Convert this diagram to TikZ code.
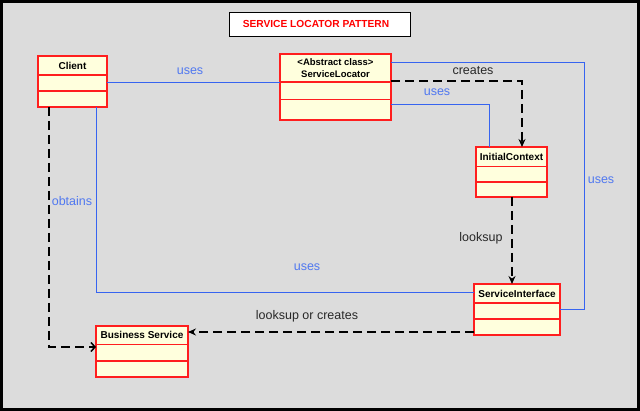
\documentclass[tikz,border=0pt]{standalone}
\usepackage{fontspec}
\setmainfont{Liberation Sans}
\usetikzlibrary{arrows.meta,calc}
\definecolor{bg}{RGB}{220,220,220}
\definecolor{boxred}{RGB}{255,30,30}
\definecolor{boxfill}{RGB}{255,255,221}
\definecolor{lblue}{RGB}{55,100,240}
\definecolor{tblue}{RGB}{80,120,240}
\definecolor{tgray}{RGB}{40,40,40}
\tikzset{
  cls/.style={draw=boxred, fill=boxfill, line width=1.2pt, inner sep=0pt, outer sep=0pt, anchor=north west},
  sep/.style={draw=boxred, line width=1.2pt},
  hdr/.style={font=\fontsize{10}{11}\selectfont\bfseries, inner sep=0pt, align=center},
  useline/.style={draw=lblue, line width=1pt},
  depline/.style={draw=black, line width=1.5pt, dash pattern=on 9pt off 5pt},
  bluelbl/.style={text=tblue, font=\fontsize{12.5}{14}\selectfont, inner sep=0pt},
  graylbl/.style={text=tgray, font=\fontsize{12.5}{14}\selectfont, inner sep=0pt},
  tip/.style={-{Stealth[length=8pt,width=7pt]}},
}
\begin{document}
\begin{tikzpicture}[x=1pt,y=-1pt]
\useasboundingbox (0,0) rectangle (640,411);
\draw[fill=bg, line width=3pt] (1.5,1.5) rectangle (638.5,409.5);
% title
\node[draw=black, fill=white, line width=1pt, minimum width=181pt, minimum height=24pt, inner sep=0pt, anchor=north west] (title) at (229,12) {};
\node[text=red, font=\fontsize{10.2}{12}\selectfont\bfseries, inner sep=0pt] (ttext) at (316,24) {SERVICE LOCATOR PATTERN};
% Client
\node[cls, minimum width=69pt, minimum height=51pt] (client) at (38,56) {};
\draw[sep] (38,75) -- (107,75) (38,91) -- (107,91);
\node[hdr] (clientt) at (72.5,65.5) {Client};
% ServiceLocator
\node[cls, minimum width=111pt, minimum height=66pt] (sl) at (280,54) {};
\draw[sep] (280,82) -- (391,82) (280,99.5) -- (391,99.5);
\node[hdr, font=\fontsize{9.5}{11.5}\selectfont\bfseries] (slt) at (335.5,68) {<Abstract class>\\ServiceLocator};
% InitialContext
\node[cls, minimum width=71pt, minimum height=50pt] (ic) at (476,147) {};
\draw[sep] (476,166.5) -- (547,166.5) (476,182) -- (547,182);
\node[hdr] (ict) at (511.5,156.5) {InitialContext};
% ServiceInterface
\node[cls, minimum width=86pt, minimum height=51pt] (si) at (474,284) {};
\draw[sep] (474,303) -- (560,303) (474,319) -- (560,319);
\node[hdr] (sit) at (517,293.5) {ServiceInterface};
% Business Service
\node[cls, minimum width=92pt, minimum height=51pt] (bs) at (96,326) {};
\draw[sep] (96,344.5) -- (188,344.5) (96,361) -- (188,361);
\node[hdr] (bst) at (142,335) {Business Service};
% connectors
\coordinate (c1) at (107,83);
\draw[useline] (c1) -- (c1 -| sl.west);
\node[bluelbl] (l1) at (190,71) {uses};
\coordinate (c2) at (391,81);
\draw[depline, tip] (c2) -| (ic.north -| 522,0);
\node[graylbl] (l2) at (473,71) {creates};
\coordinate (c3) at (391,105);
\draw[useline] (c3) -| (ic.north -| 489,0);
\node[bluelbl] (l3) at (437,92) {uses};
\coordinate (c4) at (391,63);
\coordinate (c4b) at (560,310);
\draw[useline] (c4) -| (584,310) -- (c4b);
\node[bluelbl] (l4) at (601,180) {uses};
\coordinate (c5) at (49,107);
\draw[depline, -{Straight Barb[length=4pt,width=9pt]}] (c5) |- (bs.west |- 0,347);
\node[bluelbl] (l5) at (72,201) {obtains};
\coordinate (c6) at (96.5,107);
\draw[useline] (c6) |- (si.west |- 0,293);
\node[bluelbl] (l6) at (307,267) {uses};
\draw[depline, tip] (ic.south -| 512,0) -- (si.north -| 512,0);
\node[graylbl] (l7) at (481,238) {looksup};
\coordinate (c8) at (474,332);
\draw[depline, tip] (c8) -- (c8 -| bs.east);
\node[graylbl] (l8) at (307,316) {looksup or creates};
\end{tikzpicture}
\end{document}
